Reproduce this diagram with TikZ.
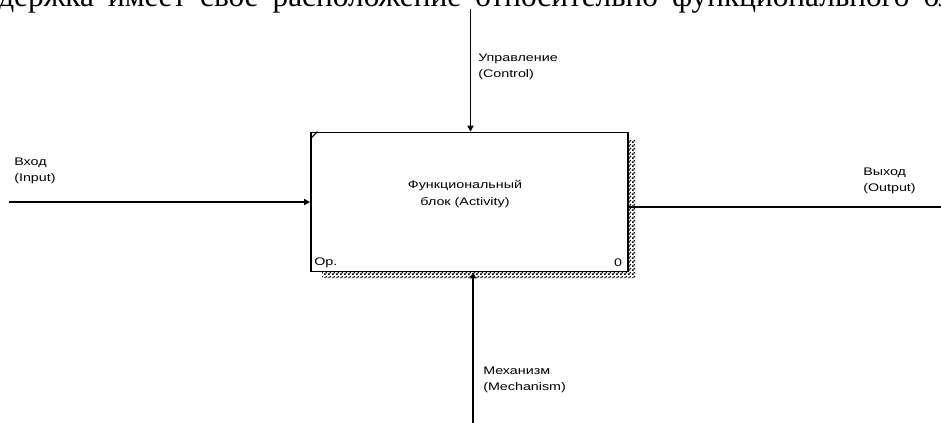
\documentclass[tikz,border=0pt]{standalone}
\usepackage{fontspec}
\setmainfont{Liberation Serif}
\newfontfamily\idef[FakeStretch=1.3]{Liberation Sans}
\usetikzlibrary{arrows.meta,patterns}
\pgfdeclarepatternformonly{idefchk}{\pgfpointorigin}{\pgfpoint{3pt}{3pt}}{\pgfpoint{3pt}{3pt}}{%
  \pgfpathrectangle{\pgfpointorigin}{\pgfpoint{1.5pt}{1.5pt}}%
  \pgfpathrectangle{\pgfpoint{1.5pt}{1.5pt}}{\pgfpoint{1.5pt}{1.5pt}}%
  \pgfusepath{fill}}
\tikzset{
  lbl/.style={font=\idef\fontsize{8.25pt}{12pt}\selectfont, inner sep=0pt, align=left, anchor=north west},
  conn/.style={line width=1.1pt},
  arr/.style={conn, -{Triangle[length=4.5pt,width=4.5pt]}},
  boxstyle/.style={draw, line width=1.3pt, fill=white, minimum width=237.75pt, minimum height=104.25pt, inner sep=0pt},
}
\begin{document}
\begin{tikzpicture}[x=0.75pt,y=-0.75pt]
\useasboundingbox (0,0) rectangle (941,422);
\fill[white] (0,0) rectangle (941,422);
% cut-off line of text at top
\node[anchor=base west, inner sep=0pt, font=\fontsize{23.5pt}{26pt}\selectfont] (toptext) at (-2,6) {\spaceskip=10.5pt держка имеет свое расположение относительно функционального блока};
% shadow
\fill[pattern=idefchk] (628,140) -- (636,140) -- (636,278) -- (322,278) -- (322,272) -- (628,272) -- cycle;
% activity box
\node[boxstyle] (act) at (469.5,202) {};
\node[font=\idef\fontsize{8.25pt}{12.5pt}\selectfont, align=center, inner sep=0pt] (actlbl) at (465,194) {Функциональный\\блок (Activity)};
\draw[line width=0.8pt] ([yshift=-5.5pt]act.north west) -- ([xshift=5.5pt]act.north west);
\node[lbl, anchor=west] (opnum) at (314,263) {Ор.};
\node[lbl, anchor=center] (cost) at (618,263) {0};
% connectors
\coordinate (ctop) at (470.5,9);
\coordinate (inl) at (9,202);
\coordinate (outr) at (945,207);
\coordinate (mbot) at (473,425);
\draw[arr] (ctop) -- (ctop |- act.north);
\draw[arr] (inl) -- (act.west);
\draw[conn] (outr -| act.east) -- (outr);
\draw[arr] (mbot) -- (mbot |- act.south);
% labels
\node[lbl] (lctl) at (478,54) {Управление\\(Control)};
\node[lbl] (lin) at (14,158) {Вход\\(Input)};
\node[lbl] (lout) at (863,168) {Выход\\(Output)};
\node[lbl] (lmech) at (483,367) {Механизм\\(Mechanism)};
\end{tikzpicture}
\end{document}
